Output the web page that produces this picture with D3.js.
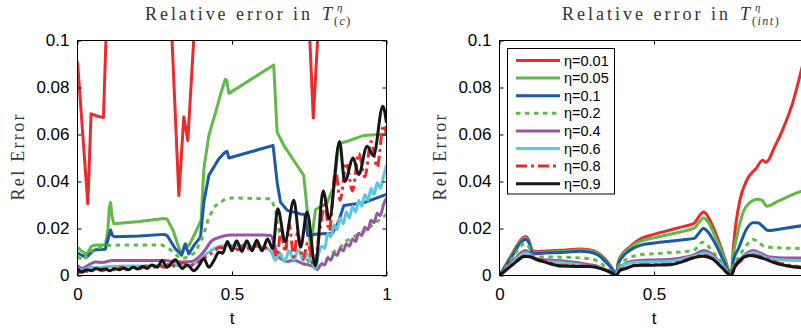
<!DOCTYPE html>
<html><head><meta charset="utf-8">
<script src="https://cdn.jsdelivr.net/npm/d3@7"></script>
<style>body{margin:0;background:#fff}svg{display:block}</style>
</head><body>
<svg id="chart" width="801" height="328"></svg>
<script>
// ---------- DATA ----------
const seriesLabels = ["η=0.01","η=0.05","η=0.1","η=0.2","η=0.4","η=0.6","η=0.8","η=0.9"];
const yTicks = [0, 0.02, 0.04, 0.06, 0.08, 0.1];
const yTickLabels = ["0","0.02","0.04","0.06","0.08","0.1"];
const xTicks = [0, 0.5, 1];
const xTickLabels = ["0","0.5","1"];

// Left panel: relative error in T_(c)  ([t, value])
const c001 = [[0,0.091],[0.0334,0.0305],[0.044,0.0688],[0.06,0.068],[0.084,0.0672],[0.092,0.1],[0.1,0.14],[0.3,0.14],[0.306,0.1],[0.328,0.034],[0.344,0.0674],[0.357,0.0574],[0.376,0.1],[0.385,0.14],[0.745,0.14],[0.752,0.1],[0.763,0.067],[0.777,0.1],[0.785,0.14],[1,0.14]];
const c005 = [[0,0.012],[0.012,0.0105],[0.03,0.009],[0.045,0.0125],[0.06,0.013],[0.09,0.013],[0.098,0.019],[0.103,0.029],[0.107,0.031],[0.112,0.025],[0.118,0.022],[0.2,0.023],[0.28,0.0243],[0.29,0.024],[0.31,0.019],[0.325,0.013],[0.337,0.0085],[0.35,0.0135],[0.36,0.0125],[0.382,0.0184],[0.4,0.0234],[0.409,0.0454],[0.425,0.0596],[0.447,0.0695],[0.465,0.078],[0.478,0.0835],[0.483,0.083],[0.49,0.0775],[0.635,0.0896],[0.646,0.061],[0.668,0.0553],[0.711,0.0468],[0.732,0.0426],[0.743,0.0284],[0.754,0.0113],[0.77,0.028],[0.808,0.031],[0.83,0.038],[0.845,0.056],[0.87,0.057],[0.927,0.0596],[1.0,0.0602]];
const c01 = [[0,0.0095],[0.015,0.0085],[0.03,0.0078],[0.05,0.0105],[0.06,0.011],[0.09,0.0112],[0.1,0.016],[0.107,0.0194],[0.113,0.017],[0.12,0.0165],[0.2,0.0168],[0.28,0.0175],[0.29,0.017],[0.317,0.0113],[0.337,0.0088],[0.348,0.0133],[0.36,0.0092],[0.377,0.0128],[0.398,0.0163],[0.409,0.0312],[0.425,0.0426],[0.457,0.0496],[0.478,0.0525],[0.484,0.0528],[0.49,0.05],[0.633,0.0553],[0.646,0.0397],[0.657,0.0312],[0.679,0.0277],[0.722,0.0262],[0.735,0.026],[0.745,0.017],[0.775,0.0177],[0.825,0.018],[0.845,0.023],[0.862,0.0298],[0.927,0.031],[1.0,0.0345]];
const c02 = [[0,0.008],[0.02,0.0064],[0.037,0.0099],[0.058,0.0113],[0.096,0.0128],[0.15,0.013],[0.274,0.013],[0.3,0.011],[0.328,0.0078],[0.339,0.0071],[0.36,0.008],[0.382,0.0099],[0.409,0.0177],[0.425,0.0248],[0.447,0.0298],[0.479,0.0326],[0.5,0.033],[0.625,0.0326],[0.641,0.0284],[0.646,0.0227],[0.657,0.0163],[0.675,0.012],[0.7,0.011],[0.73,0.009],[0.76,0.004],[0.775,0.003],[0.8,0.006],[0.82,0.0092],[0.85,0.012],[0.873,0.015],[0.93,0.019],[1.0,0.026]];
const c04 = [[0,0.0043],[0.015,0.003],[0.03,0.004],[0.058,0.0057],[0.08,0.0055],[0.112,0.0064],[0.285,0.0064],[0.316,0.0057],[0.37,0.006],[0.403,0.0092],[0.436,0.0149],[0.468,0.0166],[0.5,0.0172],[0.6,0.0172],[0.625,0.017],[0.64,0.012],[0.65,0.008],[0.68,0.006],[0.7,0.0065],[0.73,0.005],[0.76,0.004],[0.776,0.0025],[0.79,0.005],[0.8,0.0045],[0.81,0.0075],[0.82,0.0065],[0.83,0.0095],[0.84,0.0085],[0.85,0.0115],[0.86,0.0105],[0.87,0.0135],[0.88,0.0125],[0.89,0.0155],[0.9,0.0145],[0.91,0.018],[0.92,0.017],[0.93,0.0205],[0.94,0.0195],[0.95,0.0235],[0.96,0.0225],[0.97,0.0265],[0.98,0.0255],[0.99,0.03],[1.0,0.033]];
const c06 = [[0,0.003],[0.02,0.0022],[0.04,0.0035],[0.06,0.0033],[0.1,0.0038],[0.15,0.004],[0.2,0.004],[0.25,0.0042],[0.3,0.0045],[0.35,0.004],[0.38,0.005],[0.4,0.007],[0.42,0.0095],[0.45,0.012],[0.48,0.0128],[0.52,0.0128],[0.56,0.0125],[0.6,0.012],[0.625,0.0105],[0.64,0.0065],[0.655,0.0095],[0.67,0.006],[0.685,0.0105],[0.7,0.0065],[0.715,0.011],[0.73,0.0065],[0.745,0.009],[0.77,0.003],[0.78,0.009],[0.79,0.0125],[0.8,0.0115],[0.81,0.018],[0.82,0.0165],[0.83,0.0215],[0.84,0.0195],[0.85,0.0245],[0.86,0.022],[0.87,0.027],[0.88,0.0245],[0.89,0.0295],[0.9,0.027],[0.91,0.032],[0.92,0.0295],[0.93,0.0345],[0.94,0.032],[0.95,0.037],[0.96,0.0345],[0.97,0.0395],[0.98,0.037],[0.99,0.042],[1.0,0.047]];
const c08 = [[0,0.001],[0.02,0.002],[0.04,0.0015],[0.06,0.003],[0.08,0.002],[0.1,0.003],[0.12,0.0025],[0.14,0.0035],[0.16,0.0025],[0.18,0.0035],[0.2,0.0028],[0.22,0.004],[0.24,0.003],[0.26,0.0045],[0.28,0.0035],[0.3,0.005],[0.32,0.0035],[0.34,0.0055],[0.36,0.004],[0.38,0.005],[0.4,0.0065],[0.42,0.0085],[0.44,0.01],[0.46,0.012],[0.48,0.0115],[0.5,0.0125],[0.52,0.011],[0.54,0.013],[0.56,0.011],[0.58,0.013],[0.6,0.011],[0.62,0.0125],[0.635,0.011],[0.645,0.008],[0.66,0.02],[0.672,0.01],[0.685,0.022],[0.7,0.008],[0.712,0.018],[0.73,0.007],[0.745,0.014],[0.765,0.004],[0.785,0.02],[0.8,0.03],[0.815,0.019],[0.835,0.045],[0.85,0.032],[0.87,0.048],[0.89,0.036],[0.91,0.052],[0.93,0.042],[0.95,0.057],[0.97,0.046],[0.99,0.064],[1.0,0.06]];
const c09 = [[0,0.003],[0.015,0.0014],[0.03,0.0025],[0.045,0.002],[0.06,0.003],[0.075,0.0025],[0.09,0.0028],[0.105,0.002],[0.12,0.003],[0.135,0.0025],[0.15,0.0032],[0.165,0.0025],[0.18,0.0035],[0.195,0.0028],[0.21,0.0038],[0.225,0.003],[0.24,0.0045],[0.258,0.0035],[0.274,0.0064],[0.289,0.0035],[0.317,0.0067],[0.339,0.003],[0.355,0.0045],[0.377,0.002],[0.392,0.004],[0.409,0.0071],[0.425,0.0035],[0.442,0.0065],[0.457,0.0099],[0.47,0.0095],[0.485,0.0145],[0.5,0.0105],[0.515,0.0148],[0.532,0.0102],[0.548,0.0148],[0.565,0.0105],[0.58,0.015],[0.597,0.0105],[0.615,0.0155],[0.632,0.0115],[0.648,0.0284],[0.672,0.0145],[0.7,0.032],[0.722,0.012],[0.743,0.027],[0.77,0.004],[0.795,0.036],[0.815,0.024],[0.848,0.057],[0.865,0.04],[0.892,0.05],[0.91,0.043],[0.937,0.055],[0.958,0.051],[0.988,0.072],[1.0,0.065]];

// Right panel: relative error in T_(int)
const i001 = [[0,0],[0.02,0.0045],[0.04,0.009],[0.06,0.0135],[0.075,0.016],[0.085,0.0165],[0.095,0.015],[0.105,0.011],[0.115,0.0102],[0.15,0.0104],[0.2,0.0107],[0.26,0.0113],[0.29,0.011],[0.32,0.0095],[0.345,0.0065],[0.365,0.003],[0.377,0],[0.385,0.006],[0.4,0.0095],[0.42,0.012],[0.455,0.0155],[0.5,0.0175],[0.55,0.0193],[0.6,0.021],[0.63,0.0222],[0.645,0.025],[0.66,0.027],[0.675,0.025],[0.69,0.021],[0.71,0.0145],[0.73,0.007],[0.75,0],[0.757,0.012],[0.765,0.022],[0.778,0.032],[0.8,0.0405],[0.83,0.0455],[0.852,0.049],[0.862,0.0482],[0.87,0.049],[0.886,0.0535],[0.918,0.0625],[0.95,0.074],[0.98,0.089]];
const i005 = [[0,0],[0.02,0.0042],[0.04,0.0085],[0.06,0.013],[0.075,0.0153],[0.085,0.0158],[0.095,0.0145],[0.105,0.0105],[0.115,0.0097],[0.15,0.0099],[0.2,0.0102],[0.26,0.0108],[0.29,0.0105],[0.32,0.009],[0.345,0.006],[0.365,0.0028],[0.377,0],[0.385,0.0055],[0.4,0.009],[0.42,0.0115],[0.455,0.0145],[0.5,0.016],[0.55,0.0175],[0.6,0.019],[0.63,0.0202],[0.645,0.0225],[0.66,0.0245],[0.675,0.0228],[0.69,0.019],[0.71,0.013],[0.73,0.0065],[0.75,0],[0.757,0.009],[0.768,0.0165],[0.789,0.027],[0.81,0.031],[0.835,0.0325],[0.85,0.032],[0.865,0.0295],[0.9,0.0315],[0.95,0.0345],[0.98,0.036]];
const i01 = [[0,0],[0.02,0.004],[0.04,0.008],[0.06,0.0125],[0.075,0.0148],[0.085,0.0153],[0.095,0.014],[0.105,0.01],[0.115,0.0094],[0.15,0.0096],[0.2,0.0098],[0.26,0.0103],[0.29,0.01],[0.32,0.0086],[0.345,0.0057],[0.365,0.0026],[0.377,0],[0.385,0.005],[0.4,0.0082],[0.42,0.0105],[0.455,0.0128],[0.5,0.0138],[0.55,0.0146],[0.6,0.0153],[0.63,0.0158],[0.645,0.018],[0.66,0.02],[0.675,0.0185],[0.69,0.0155],[0.71,0.0105],[0.73,0.005],[0.75,0],[0.757,0.0065],[0.773,0.0113],[0.8,0.0199],[0.82,0.0225],[0.835,0.0225],[0.87,0.0192],[0.92,0.02],[0.98,0.0212]];
const i02 = [[0,0],[0.02,0.0035],[0.04,0.007],[0.06,0.011],[0.075,0.0133],[0.085,0.0135],[0.095,0.0122],[0.105,0.0088],[0.12,0.008],[0.2,0.0078],[0.27,0.0074],[0.3,0.007],[0.33,0.005],[0.355,0.0025],[0.377,0],[0.385,0.0038],[0.4,0.006],[0.42,0.0075],[0.455,0.0088],[0.5,0.0093],[0.55,0.0097],[0.6,0.0102],[0.63,0.0108],[0.645,0.0128],[0.657,0.0142],[0.672,0.013],[0.69,0.01],[0.71,0.007],[0.73,0.0035],[0.75,0],[0.758,0.0045],[0.775,0.008],[0.8,0.013],[0.821,0.0153],[0.84,0.014],[0.855,0.0125],[0.9,0.0118],[0.98,0.0115]];
const i04 = [[0,0],[0.02,0.0028],[0.04,0.0055],[0.06,0.0085],[0.075,0.0102],[0.085,0.0106],[0.095,0.0098],[0.11,0.0078],[0.13,0.0068],[0.2,0.0063],[0.25,0.0055],[0.28,0.0048],[0.32,0.0038],[0.35,0.002],[0.377,0],[0.385,0.0028],[0.4,0.0045],[0.42,0.0058],[0.455,0.0064],[0.5,0.0066],[0.55,0.0068],[0.6,0.0078],[0.63,0.0088],[0.66,0.0106],[0.68,0.0098],[0.7,0.0075],[0.72,0.0045],[0.75,0],[0.76,0.004],[0.78,0.007],[0.8,0.0095],[0.821,0.0106],[0.845,0.0095],[0.87,0.008],[0.92,0.0075],[0.98,0.0074]];
const i06 = [[0,0],[0.02,0.0025],[0.04,0.005],[0.06,0.0077],[0.075,0.0092],[0.085,0.0096],[0.095,0.009],[0.11,0.0072],[0.13,0.0062],[0.2,0.0055],[0.25,0.0048],[0.28,0.0042],[0.32,0.0034],[0.35,0.0018],[0.377,0],[0.385,0.0026],[0.4,0.0042],[0.42,0.0052],[0.455,0.0057],[0.5,0.0058],[0.55,0.006],[0.6,0.0072],[0.63,0.0082],[0.66,0.0096],[0.68,0.009],[0.7,0.007],[0.72,0.0042],[0.75,0],[0.76,0.0037],[0.78,0.0064],[0.8,0.0088],[0.821,0.0098],[0.845,0.0088],[0.87,0.0072],[0.92,0.0066],[0.98,0.0064]];
const i08 = [[0,0],[0.02,0.0023],[0.04,0.0045],[0.06,0.0068],[0.08,0.0084],[0.095,0.0082],[0.12,0.007],[0.15,0.006],[0.2,0.0042],[0.29,0.004],[0.33,0.003],[0.36,0.0015],[0.377,0],[0.39,0.0025],[0.41,0.0032],[0.44,0.0045],[0.5,0.0046],[0.55,0.0048],[0.6,0.0065],[0.63,0.0078],[0.66,0.0085],[0.69,0.0072],[0.72,0.0035],[0.75,0],[0.76,0.0035],[0.78,0.006],[0.81,0.0088],[0.84,0.0082],[0.9,0.0055],[0.98,0.0035]];
const i09 = [[0,0],[0.02,0.0022],[0.04,0.0043],[0.06,0.0065],[0.08,0.0081],[0.093,0.0081],[0.12,0.0068],[0.147,0.0057],[0.2,0.004],[0.25,0.0038],[0.29,0.0038],[0.33,0.0028],[0.36,0.0013],[0.377,0],[0.39,0.0022],[0.406,0.0028],[0.438,0.0043],[0.5,0.0044],[0.55,0.0046],[0.6,0.0062],[0.63,0.0076],[0.66,0.0082],[0.69,0.007],[0.72,0.0033],[0.75,0],[0.76,0.0032],[0.773,0.0057],[0.81,0.0085],[0.84,0.0078],[0.9,0.005],[0.98,0.0032]];

// ---------- STYLE ----------
const colors = ["#ea2a2c","#5fba46","#1e58a8","#5fba46","#9a56a5","#5cc8dc","#ea2a2c","#161616"];
const dashes = [null,null,null,"4.5,4.5",null,null,"11,4,3,4",null];
const smoothLeft = [false,false,false,false,true,true,true,true];

const svg = d3.select("#chart");
const W = 801, H = 328;
const serif = "'Liberation Serif','DejaVu Serif',serif";
const sans = "'Liberation Sans',Arial,Helvetica,sans-serif";

function panel(id, left, data, sub, titleX, tX, smooth) {
  const x = d3.scaleLinear().domain([0,1]).range([left, left + 309]);
  const y = d3.scaleLinear().domain([0,0.1]).range([275.5, 40.5]);
  const g = svg.append("g");
  svg.append("defs").append("clipPath").attr("id", "clip" + id)
    .append("rect").attr("x", x(0)).attr("y", y(0.1)).attr("width", x(1) - x(0)).attr("height", y(0) - y(0.1));

  const lines = g.append("g").attr("clip-path", "url(#clip" + id + ")");
  data.forEach((d, i) => {
    const line = d3.line().x(p => x(p[0])).y(p => y(p[1]))
      .curve(smooth[i] ? d3.curveMonotoneX : d3.curveLinear);
    lines.append("path").attr("d", line(d)).attr("fill", "none")
      .attr("stroke", colors[i]).attr("stroke-width", 3)
      .attr("stroke-linejoin", "round")
      .attr("stroke-dasharray", dashes[i]);
  });

  // frame
  g.append("rect").attr("x", x(0)).attr("y", y(0.1)).attr("width", x(1) - x(0)).attr("height", y(0) - y(0.1))
    .attr("fill", "none").attr("stroke", "#000").attr("stroke-width", 1);

  const yL = d3.axisLeft(y).tickValues(yTicks).tickSizeInner(-4).tickSizeOuter(0).tickPadding(8)
    .tickFormat((d, i) => yTickLabels[i]);
  const yR = d3.axisRight(y).tickValues(yTicks).tickSizeInner(-4).tickSizeOuter(0).tickFormat("");
  // only label ticks that fall inside the picture
  const xB = d3.axisBottom(x).tickValues(xTicks).tickSizeInner(-4).tickSizeOuter(0).tickPadding(12)
    .tickFormat((d, i) => (x(d) + 6 < W ? xTickLabels[i] : ""));
  const xT = d3.axisTop(x).tickValues(xTicks).tickSizeInner(-4).tickSizeOuter(0).tickFormat("");
  [[yL, `translate(${x(0)},0)`], [yR, `translate(${x(1)},0)`], [xB, `translate(0,${y(0)})`], [xT, `translate(0,${y(0.1)})`]]
    .forEach(([ax, tr]) => {
      const a = g.append("g").attr("transform", tr).call(ax);
      a.select(".domain").remove();
      a.selectAll("line").attr("stroke", "#000");
      a.selectAll("text").attr("font-family", sans).attr("font-size", 17).attr("fill", "#000");
    });

  // x label
  g.append("text").attr("x", (x(0) + x(1)) / 2).attr("y", 324).attr("text-anchor", "middle")
    .attr("font-family", sans).attr("font-size", 17).text("t");
  // y label
  g.append("text").attr("transform", `translate(${left - 54},157.5) rotate(-90)`).attr("text-anchor", "middle")
    .attr("font-family", serif).attr("font-size", 18).attr("fill", "#333")
    .attr("textLength", 86).attr("lengthAdjust", "spacing").text("Rel Error");
  // title
  g.append("text").attr("x", titleX).attr("y", 20).attr("font-family", serif).attr("font-size", 18)
    .attr("fill", "#333").attr("textLength", tX - titleX - 12).attr("lengthAdjust", "spacing").text("Relative error in");
  g.append("text").attr("x", tX).attr("y", 20).attr("font-family", serif).attr("font-size", 18)
    .attr("font-style", "italic").attr("fill", "#333").text("T");
  g.append("text").attr("x", tX + 15).attr("y", 11).attr("font-family", serif).attr("font-size", 11)
    .attr("font-style", "italic").attr("fill", "#333").text("η");
  const s = g.append("text").attr("x", tX + 12).attr("y", 25).attr("font-family", serif).attr("font-size", 12)
    .attr("fill", "#333").attr("letter-spacing", 1.5);
  s.append("tspan").text("(");
  s.append("tspan").attr("font-style", "italic").text(sub);
  s.append("tspan").text(")");
  return {x, y, g};
}

panel("L", 77.5, [c001,c005,c01,c02,c04,c06,c08,c09], "c", 145, 322, smoothLeft);
panel("R", 499.5, [i001,i005,i01,i02,i04,i06,i08,i09], "int", 562, 740, [true,true,true,true,true,true,true,true]);

// legend (right panel)
const lg = svg.append("g");
lg.append("rect").attr("x", 507.5).attr("y", 48.5).attr("width", 107).attr("height", 145.5)
  .attr("fill", "#fff").attr("stroke", "#000").attr("stroke-width", 1);
seriesLabels.forEach((lab, i) => {
  const yy = 60.5 + i * 17.6;
  lg.append("line").attr("x1", 516).attr("x2", 560).attr("y1", yy).attr("y2", yy)
    .attr("stroke", colors[i]).attr("stroke-width", 3).attr("stroke-dasharray", dashes[i]);
  lg.append("text").attr("x", 564).attr("y", yy).attr("dy", "0.35em")
    .attr("font-family", sans).attr("font-size", 14.5).attr("fill", "#000").text(lab);
});
</script></body></html>
